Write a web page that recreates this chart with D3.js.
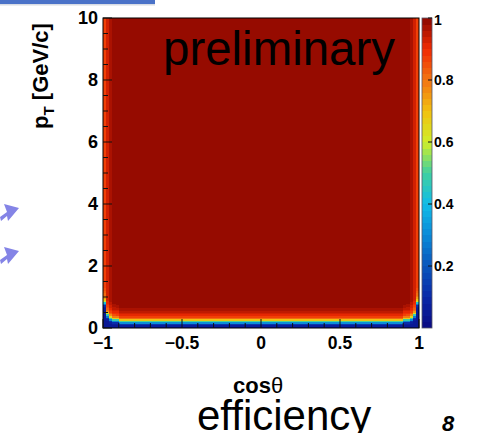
<!DOCTYPE html>
<html>
<head>
<meta charset="utf-8">
<script src="https://cdn.jsdelivr.net/npm/d3@7"></script>
<style>
  body { margin: 0; background: #fff; }
  text { font-family: "Liberation Sans", Arial, sans-serif; }
</style>
</head>
<body>
<svg id="chart" width="481" height="433"></svg>
<script>
// efficiency vs pT at mid cos(theta), bins of 0.05 GeV/c starting at 0
const turnOn = [0.05, 0.07, 0.12, 0.30, 0.50, 0.68, 0.80, 0.87, 0.90, 0.92, 0.94, 0.96, 0.97, 0.98, 0.99, 1.0];
// loss at the |cos(theta)| edges, bins of 0.02 counted inward from |cos|=1
const edgeEff = [0.87, 0.93, 0.96, 0.98, 0.99];
// how many pT bins the turn-on is delayed in those edge bins
const edgeShift = [12, 4, 2, 1, 1];

const xTicks = [-1, -0.5, 0, 0.5, 1];
const yTicks = [0, 2, 4, 6, 8, 10];
const zTicks = [0.2, 0.4, 0.6, 0.8, 1];

// colour palette of the z axis
const paletteStops  = [0, 0.1, 0.2, 0.3, 0.4, 0.5, 0.6, 0.7, 0.8, 0.9, 1];
const paletteColors = ["#0a0a82", "#0a28a8", "#0a55bc", "#0a8ad8", "#10bce8", "#40d0a0",
                       "#d0ee28", "#f2c010", "#f27412", "#f02a02", "#8c0800"];

const nX = 100, nY = 200, nZ = 50;

// Set the plot frame
const frame = {left: 103, right: 419, top: 18, bottom: 328};

const svg = d3.select("#chart");

const x = d3.scaleLinear().domain([-1, 1]).range([frame.left, frame.right]);
const y = d3.scaleLinear().domain([0, 10]).range([frame.bottom, frame.top]);
const z = d3.scaleLinear().domain([0, 1]).range([frame.bottom, frame.top]);

const colorScale = d3.scaleLinear()
    .domain(paletteStops)
    .range(paletteColors)
    .interpolate(d3.interpolateRgb);

// ROOT-like palette: 50 flat levels
function levelColor(v) {
    let lev = Math.min(nZ - 1, Math.floor(v * nZ));
    return colorScale((lev + 0.5) / nZ);
}

// build the cells
const cells = [];
for (let i = 0; i < nX; i++) {
    const k = Math.min(i, nX - 1 - i);   // distance to the nearer edge
    for (let j = 0; j < nY; j++) {
        let shift = k < edgeShift.length ? edgeShift[k] : 0;
        let e = k < edgeEff.length ? edgeEff[k] : 1;
        let idx = Math.max(0, j - shift);
        let t = idx < turnOn.length ? turnOn[idx] : 1;
        cells.push({i: i, j: j, v: t * e});
    }
}

const dx = 2 / nX, dy = 10 / nY;

svg.append("g")
    .attr("shape-rendering", "crispEdges")
    .selectAll("rect")
    .data(cells)
    .enter().append("rect")
    .attr("x", d => x(-1 + d.i * dx))
    .attr("y", d => y((d.j + 1) * dy))
    .attr("width", d => x(-1 + (d.i + 1) * dx) - x(-1 + d.i * dx) + 0.4)
    .attr("height", d => y(d.j * dy) - y((d.j + 1) * dy) + 0.4)
    .attr("fill", d => levelColor(d.v));

// frame
svg.append("rect")
    .attr("x", frame.left).attr("y", frame.top)
    .attr("width", frame.right - frame.left)
    .attr("height", frame.bottom - frame.top)
    .attr("fill", "none").attr("stroke", "#000").attr("stroke-width", 1);

// ticks inside the frame (ROOT style)
const ticksG = svg.append("g").attr("stroke", "#111").attr("stroke-width", 1);
d3.range(-1, 1.0001, 0.1).forEach(function (v) {
    const major = Math.abs(v * 2 - Math.round(v * 2)) < 1e-6;
    ticksG.append("line")
        .attr("x1", x(v)).attr("x2", x(v))
        .attr("y1", frame.bottom).attr("y2", frame.bottom - (major ? 9 : 5));
});
d3.range(0, 10.0001, 0.5).forEach(function (v) {
    const major = Math.abs(v / 2 - Math.round(v / 2)) < 1e-6;
    ticksG.append("line")
        .attr("y1", y(v)).attr("y2", y(v))
        .attr("x1", frame.left).attr("x2", frame.left + (major ? 9 : 5));
});

// tick labels
const fmt = d3.format("");
svg.append("g").selectAll("text")
    .data(xTicks).enter().append("text")
    .attr("x", d => x(d)).attr("y", 349)
    .attr("text-anchor", "middle")
    .attr("font-size", 17.5).attr("font-weight", "bold")
    .text(d => fmt(d));

svg.append("g").selectAll("text")
    .data(yTicks).enter().append("text")
    .attr("x", 98).attr("y", d => y(d))
    .attr("dy", "0.36em")
    .attr("text-anchor", "end")
    .attr("font-size", 18).attr("font-weight", "bold")
    .text(d => fmt(d));

// y axis title
const yTitle = svg.append("text")
    .attr("transform", "translate(48,76) rotate(-90)")
    .attr("text-anchor", "middle")
    .attr("font-size", 22).attr("font-weight", "bold");
yTitle.append("tspan").text("p");
yTitle.append("tspan").attr("dy", 6).attr("font-size", 15).text("T");
yTitle.append("tspan").attr("dy", -6).text(" [GeV/c]");

// colour bar
const bar = {left: 422, right: 432};
svg.append("g")
    .attr("shape-rendering", "crispEdges")
    .selectAll("rect")
    .data(d3.range(nZ)).enter().append("rect")
    .attr("x", bar.left)
    .attr("y", d => z((d + 1) / nZ))
    .attr("width", bar.right - bar.left)
    .attr("height", d => z(d / nZ) - z((d + 1) / nZ) + 0.4)
    .attr("fill", d => colorScale((d + 0.5) / nZ));
svg.append("rect")
    .attr("x", bar.left).attr("y", frame.top)
    .attr("width", bar.right - bar.left).attr("height", frame.bottom - frame.top)
    .attr("fill", "none").attr("stroke", "#556").attr("stroke-width", 0.8);
svg.append("g").selectAll("line")
    .data(zTicks).enter().append("line")
    .attr("x1", bar.right - 4).attr("x2", bar.right)
    .attr("y1", d => z(d)).attr("y2", d => z(d))
    .attr("stroke", "#111");
svg.append("g").selectAll("text")
    .data(zTicks).enter().append("text")
    .attr("x", 434).attr("y", d => z(d) + (d === 1 ? 2 : 0))
    .attr("dy", "0.36em")
    .attr("font-size", 14).attr("font-weight", "bold")
    .text(d => fmt(d));

// "preliminary" label inside the frame
svg.append("text")
    .attr("x", 163).attr("y", 65)
    .attr("font-size", 48)
    .attr("textLength", 232).attr("lengthAdjust", "spacingAndGlyphs")
    .text("preliminary");

// x axis title, and the slide text around the plot
const xTitle = svg.append("text")
    .attr("x", 233).attr("y", 393)
    .attr("font-size", 22);
xTitle.append("tspan").attr("font-weight", "bold").text("cos");
xTitle.append("tspan").text("\u03b8");

svg.append("text")
    .attr("x", 197).attr("y", 430)
    .attr("font-size", 42)
    .text("efficiency");

svg.append("text")
    .attr("x", 442).attr("y", 431)
    .attr("font-size", 22).attr("font-weight", "bold").attr("font-style", "italic")
    .text("8");

// slide decorations: top bar and two arrows
svg.append("rect").attr("x", 0).attr("y", 0).attr("width", 155).attr("height", 4).attr("fill", "#4a72c8");
svg.append("rect").attr("x", 0).attr("y", 4).attr("width", 155).attr("height", 1.5).attr("fill", "#d8dce4");

[208, 251].forEach(function (ty) {
    svg.append("path")
        .attr("d", "M0," + (ty + 9) + " L7," + (ty + 4) + " L4," + (ty - 4) +
              " L19," + ty + " L8," + (ty + 13) + " L7," + (ty + 8) + " L1," + (ty + 13) + " Z")
        .attr("fill", "#8484e6");
});
</script>
</body>
</html>
